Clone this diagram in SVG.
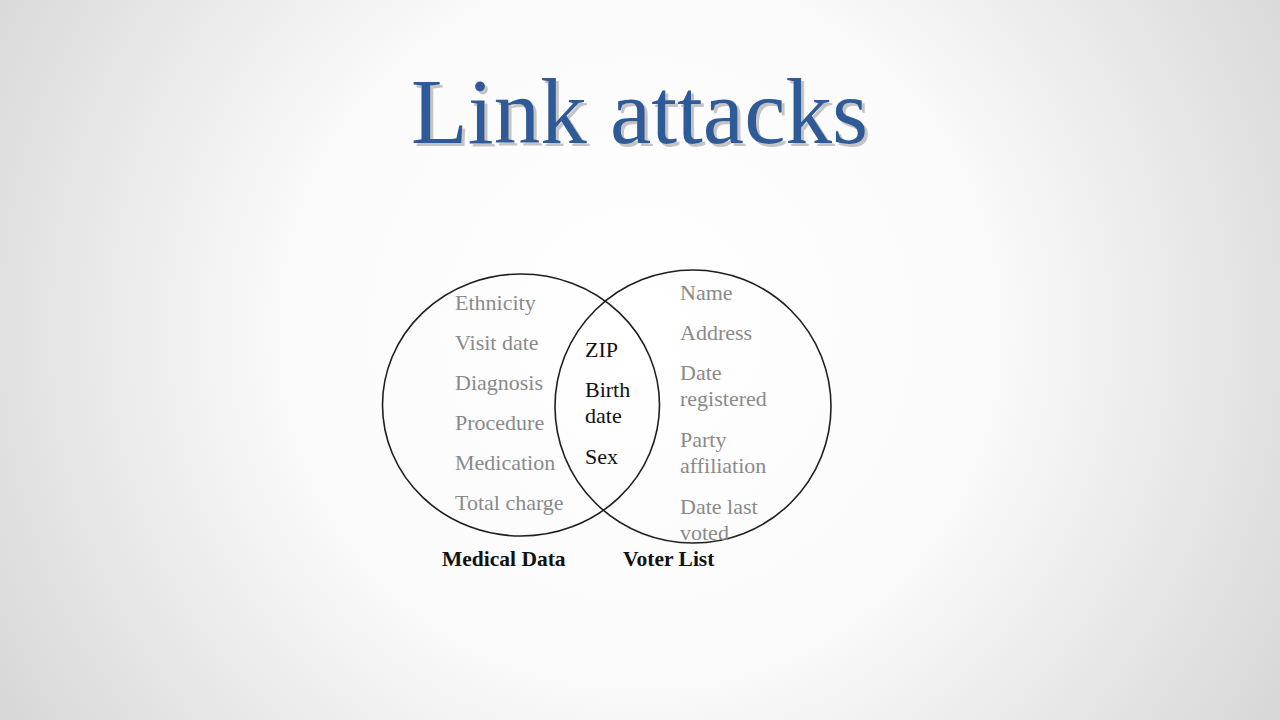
<svg xmlns="http://www.w3.org/2000/svg" width="1280" height="720" viewBox="0 0 1280 720">
<defs>
<radialGradient id="bg" cx="640" cy="330" r="760" gradientUnits="userSpaceOnUse">
<stop offset="0" stop-color="#ffffff"/>
<stop offset="0.45" stop-color="#fbfbfb"/>
<stop offset="1" stop-color="#d6d6d6"/>
</radialGradient>
<filter id="shadow" x="-5%" y="-20%" width="115%" height="150%">
<feOffset in="SourceAlpha" dx="3" dy="3" result="off"/>
<feFlood flood-color="#c4c4c4"/>
<feComposite in2="off" operator="in" result="sh"/>
<feMerge><feMergeNode in="sh"/><feMergeNode in="SourceGraphic"/></feMerge>
</filter>
</defs>
<style>
.set{fill:none;stroke:#1e1e1e;stroke-width:1.6}
.g{font-family:"Liberation Serif","Times New Roman",serif;font-size:22px;fill:#8a8a8a}
.k{font-family:"Liberation Serif","Times New Roman",serif;font-size:22px;fill:#111}
.lbl{font-family:"Liberation Serif","Times New Roman",serif;font-size:21.5px;font-weight:bold;fill:#111}
.title{font-family:"Liberation Serif","Times New Roman",serif;font-size:93px}
</style>
<rect width="1280" height="720" fill="url(#bg)"/>
<g id="title">
<text class="title" x="411" y="143" fill="#2f5a98" filter="url(#shadow)">Link attacks</text>
</g>
<g id="medical-data">
<ellipse class="set" cx="521" cy="405" rx="138.5" ry="131"/>
<text class="g" x="455" y="310">Ethnicity</text>
<text class="g" x="455" y="350">Visit date</text>
<text class="g" x="455" y="390">Diagnosis</text>
<text class="g" x="455" y="430">Procedure</text>
<text class="g" x="455" y="470">Medication</text>
<text class="g" x="455" y="510">Total charge</text>
<text class="lbl" x="442" y="566">Medical Data</text>
</g>
<g id="voter-list">
<ellipse class="set" cx="693" cy="406.5" rx="138" ry="136.5"/>
<text class="g" x="680" y="300">Name</text>
<text class="g" x="680" y="340">Address</text>
<text class="g" x="680" y="380">Date</text>
<text class="g" x="680" y="406">registered</text>
<text class="g" x="680" y="447">Party</text>
<text class="g" x="680" y="473">affiliation</text>
<text class="g" x="680" y="514">Date last</text>
<text class="g" x="680" y="540">voted</text>
<text class="lbl" x="623" y="566">Voter List</text>
</g>
<g id="intersection">
<text class="k" x="585" y="357">ZIP</text>
<text class="k" x="585" y="397">Birth</text>
<text class="k" x="585" y="423">date</text>
<text class="k" x="585" y="464">Sex</text>
</g>
<g id="connectors"></g>
</svg>
